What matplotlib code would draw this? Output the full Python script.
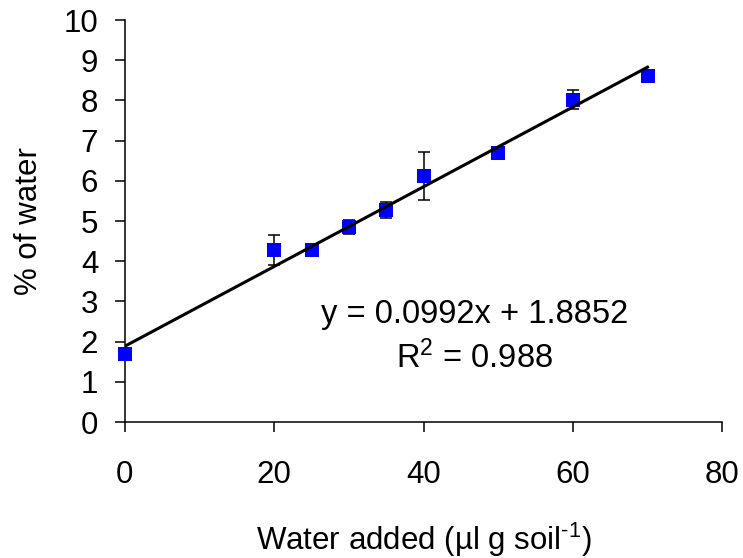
import numpy as np
import matplotlib
matplotlib.use("Agg")
import matplotlib.pyplot as plt

plt.rcParams['font.family'] = ['Liberation Sans', 'DejaVu Sans']
plt.rcParams['mathtext.fontset'] = 'custom'
plt.rcParams['mathtext.rm'] = 'Liberation Sans'
plt.rcParams['mathtext.it'] = 'Liberation Sans:italic'
plt.rcParams['mathtext.default'] = 'regular'

# water added (ul per g soil) and measured % of water
water_added = [0, 20, 25, 30, 35, 40, 50, 60, 70]
pct_water = [1.69, 4.28, 4.28, 4.85, 5.28, 6.12, 6.70, 8.02, 8.61]
pct_err = [0.05, 0.38, 0.05, 0.18, 0.2, 0.6, 0.05, 0.23, 0.05]

# linear fit reported on the chart
slope = 0.0992
intercept = 1.8852
r2 = 0.988
fit_range = [0, 70]

fig = plt.figure(figsize=(7.43, 5.58), dpi=100)
ax = fig.add_axes([0.168, 0.2437, 0.804, 0.7203])

ax.errorbar(water_added, pct_water, yerr=pct_err, fmt='none', ecolor='black',
            elinewidth=1.1, capsize=4.6, capthick=1.1, zorder=2, clip_on=False)
ax.plot(water_added, pct_water, 's', color='#0000ff', markersize=10.5,
        markeredgewidth=0, zorder=3, clip_on=False)
fx = np.array(fit_range)
ax.plot(fx, slope * fx + intercept, color='black', linewidth=2.2, zorder=4)

# equation label, slightly bigger than the tick labels
ax.text(46.8, 2.46, "y = %.4fx + %.4f" % (slope, intercept), fontsize=23.5,
        ha='center', va='baseline')
ax.text(46.8, 1.34, "R$^{2}$ = %.3f" % r2, fontsize=23.5, ha='center', va='baseline')

ax.set_xlim(0, 80)
ax.set_ylim(0, 10)
ax.set_xticks([0, 20, 40, 60, 80])
ax.set_yticks(range(0, 11))
ax.tick_params(axis='x', direction='out', length=7.2, width=1.1, pad=20, labelsize=22.5)
ax.tick_params(axis='y', direction='out', length=7.2, width=1.1, pad=12, labelsize=22.5)
for s in ['top', 'right']:
    ax.spines[s].set_visible(False)
for s in ['left', 'bottom']:
    ax.spines[s].set_linewidth(1.1)

ax.set_xlabel("Water added (\u00b5l g soil$^{\\text{-1}}$)", fontsize=22.5)
ax.set_ylabel("% of water", fontsize=22.5)
ax.xaxis.set_label_coords(0.5, -0.245)
ax.yaxis.set_label_coords(-0.135, 0.5)

fig.savefig("out.png", dpi=100)
